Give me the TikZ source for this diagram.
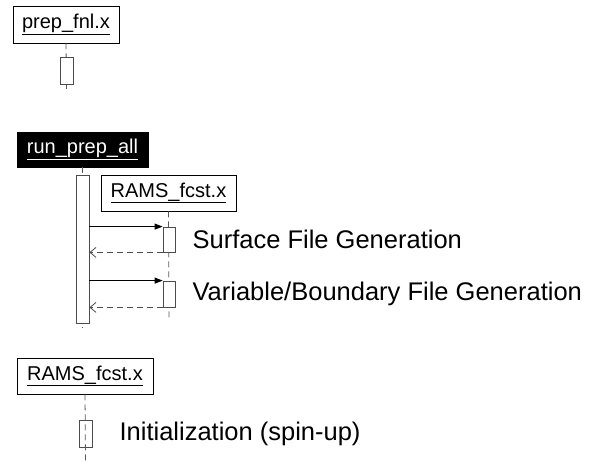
\documentclass[tikz,border=0pt]{standalone}
\usepackage{fontspec}
\setmainfont{Liberation Sans}
\usetikzlibrary{arrows.meta,positioning}
\tikzset{
  objbox/.style={draw, line width=0.8pt, inner sep=0pt, font=\fontsize{20}{24}\selectfont},
  actbox/.style={draw=black!70, fill=white, line width=0.8pt, inner sep=0pt},
  lifeline/.style={black!65, line width=0.8pt, dash pattern=on 6pt off 4pt},
  call/.style={-{Triangle[length=8pt,width=6pt]}, line width=0.8pt},
  reply/.style={black!70, line width=0.8pt, dash pattern=on 6pt off 4pt, -{Straight Barb[length=6pt,width=10pt]}},
  note/.style={inner sep=0pt, font=\fontsize{25.5}{30}\selectfont}
}
\begin{document}
\begin{tikzpicture}[x=1pt, y=-1pt]
  \useasboundingbox (0,0) rectangle (597,462);

  % prep_fnl.x
  \node[objbox, minimum width=106pt, minimum height=37pt] (prep) at (66,24.5) {\underline{prep\_fnl.x}};
  \coordinate (prepend) at (66.5,89);
  \draw[lifeline] (prep.south) -- (prepend);
  \node[actbox, minimum width=13pt, minimum height=27pt] (prepact) at (66.5,70.5) {};

  % run_prep_all
  \node[objbox, fill=black, text=white, minimum width=131pt, minimum height=35pt] (run) at (82.5,149.5) {\underline{run\_prep\_all}};
  \coordinate (runend) at (82.5,328);
  \draw[lifeline] (run.south) -- (runend);
  \node[actbox, minimum width=13pt, minimum height=148pt] (runact) at (82.5,249) {};

  % RAMS_fcst.x called from run_prep_all
  \node[objbox, minimum width=135pt, minimum height=36pt] (rams) at (168.5,193) {\underline{RAMS\_fcst.x}};
  \coordinate (ramsend) at (169,318);
  \draw[lifeline] (rams.south) -- (ramsend);
  \node[actbox, minimum width=12pt, minimum height=25pt] (surf) at (169,239.5) {};
  \node[actbox, minimum width=12pt, minimum height=26pt] (bnd) at (169,294) {};

  \draw[call] (runact.east |- surf.north) -- (surf.north west);
  \draw[reply] (surf.south west) -- (runact.east |- surf.south);
  \draw[call] (runact.east |- bnd.north) -- (bnd.north west);
  \draw[reply] (bnd.south west) -- (runact.east |- bnd.south);

  \node[note, right=17pt of surf] (surftxt) {Surface File Generation};
  \node[note, right=17pt of bnd] (bndtxt) {Variable/Boundary File Generation};

  % RAMS_fcst.x on its own
  \node[objbox, minimum width=136pt, minimum height=36pt] (init) at (85,376) {\underline{RAMS\_fcst.x}};
  \coordinate (initend) at (85.5,462);
  \node[actbox, fill=none, minimum width=13pt, minimum height=27pt] (initact) at (85.5,433.5) {};
  \draw[lifeline] (init.south) -- (initend);
  \node[note, right=27pt of initact] (inittxt) {Initialization (spin-up)};
\end{tikzpicture}
\end{document}
